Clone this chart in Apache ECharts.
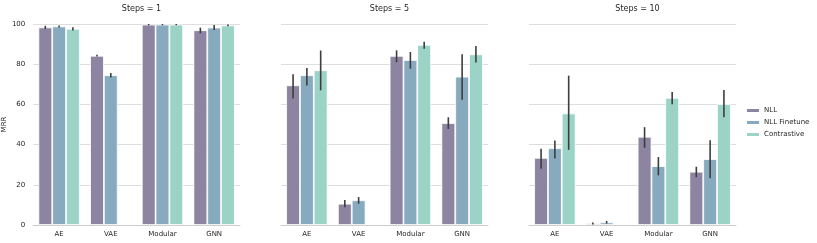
<!DOCTYPE html>
<html><head><meta charset="utf-8">
<script src="https://cdn.jsdelivr.net/npm/echarts@6/dist/echarts.min.js"></script>
<style>html,body{margin:0;padding:0;background:#fff}#c{width:817px;height:243px}</style>
</head><body><div id="c"></div>
<script>
const categories = ['AE', 'VAE', 'Modular', 'GNN'];
const panelTitles = ['Steps = 1', 'Steps = 5', 'Steps = 10'];
const seriesNames = ['NLL', 'NLL Finetune', 'Contrastive'];
const yTicks = [0, 20, 40, 60, 80, 100];

// values per panel: [NLL, NLL Finetune, Contrastive], each per category
const steps1_NLL = [98.3, 84.2, 99.7, 96.9];
const steps1_FT = [98.8, 74.5, 99.7, 98.2];
const steps1_C = [97.6, null, 99.7, 99.3];
const steps1_NLL_err = [[97.5, 99.1], [83.8, 84.7], [99.4, 100], [95.4, 98.2]];
const steps1_FT_err = [[98.3, 99.3], [73.4, 75.6], [99.4, 100], [97.0, 99.5]];
const steps1_C_err = [[96.8, 98.4], null, [99.4, 100], [98.9, 99.7]];

const steps5_NLL = [69.5, 10.6, 84.1, 50.7];
const steps5_FT = [74.5, 12.3, 82.1, 73.8];
const steps5_C = [77.0, null, 89.6, 84.9];
const steps5_NLL_err = [[62.9, 75.0], [8.8, 12.4], [81.0, 86.9], [47.8, 53.6]];
const steps5_FT_err = [[69.4, 78.1], [10.6, 13.9], [77.8, 86.1], [62.3, 84.9]];
const steps5_C_err = [[67.0, 86.8], null, [87.7, 91.2], [80.8, 89.1]];

const steps10_NLL = [33.4, 0.8, 43.9, 26.5];
const steps10_FT = [38.2, 1.3, 29.3, 32.8];
const steps10_C = [55.5, null, 63.2, 60.1];
const steps10_NLL_err = [[28.0, 37.9], [0.3, 1.2], [38.4, 48.7], [23.8, 29.0]];
const steps10_FT_err = [[33.1, 42.0], [0.7, 2.0], [24.7, 33.8], [23.2, 42.2]];
const steps10_C_err = [[37.4, 74.3], null, [60.1, 66.2], [53.6, 67.2]];

const panels = [
  {vals: [steps1_NLL, steps1_FT, steps1_C], errs: [steps1_NLL_err, steps1_FT_err, steps1_C_err]},
  {vals: [steps5_NLL, steps5_FT, steps5_C], errs: [steps5_NLL_err, steps5_FT_err, steps5_C_err]},
  {vals: [steps10_NLL, steps10_FT, steps10_C], errs: [steps10_NLL_err, steps10_FT_err, steps10_C_err]}
];

const colors = ['#8c84a0', '#88aabf', '#9bd3c7'];
const gridLefts = [33, 281, 529];
const gridWidth = 207;
const font = 'DejaVu Sans';

const chart = echarts.init(document.getElementById('c'), null, {renderer: 'canvas'});
const grids = [], xAxes = [], yAxes = [], series = [], titles = [];

panels.forEach((p, pi) => {
  grids.push({left: gridLefts[pi], width: gridWidth, top: 24, height: 201});
  titles.push({text: panelTitles[pi], left: gridLefts[pi] + gridWidth / 2, textAlign: 'center', top: 0,
    textStyle: {fontFamily: font, fontSize: 8, fontWeight: 'normal', color: '#262626'}});
  xAxes.push({type: 'category', gridIndex: pi, data: categories,
    axisLine: {show: true, lineStyle: {color: '#cccccc', width: 1}},
    axisTick: {show: false},
    axisLabel: {fontFamily: font, fontSize: 7, color: '#262626', margin: 6}});
  yAxes.push({type: 'value', gridIndex: pi, min: 0, max: 100, interval: 20,
    name: pi === 0 ? 'MRR' : '', nameLocation: 'middle', nameGap: 20,
    nameTextStyle: {fontFamily: font, fontSize: 7, color: '#262626'},
    axisLine: {show: false}, axisTick: {show: false},
    axisLabel: {show: pi === 0, fontFamily: font, fontSize: 7, color: '#262626', margin: 8},
    splitLine: {show: true, lineStyle: {color: '#dedede', width: 1}}});
  p.vals.forEach((vals, si) => {
    series.push({type: 'bar', name: seriesNames[si], xAxisIndex: pi, yAxisIndex: pi,
      data: vals, barGap: '0%', barCategoryGap: '20%',
      itemStyle: {color: colors[si], borderColor: '#ffffff', borderWidth: 0.8},
      emphasis: {disabled: true}, z: 2});
  });
  // error bars
  p.errs.forEach((errs, si) => {
    series.push({type: 'custom', xAxisIndex: pi, yAxisIndex: pi, z: 5,
      data: errs.map((e, ci) => e ? [ci, e[0], e[1]] : [ci, null, null]),
      renderItem: function (params, api) {
        const lo = api.value(1), hi = api.value(2);
        if (lo === null || lo === undefined || isNaN(lo)) return null;
        const cw = api.size([1, 0])[0];
        const bw = cw * 0.8 / 3;
        const cx = api.coord([api.value(0), 0])[0] + (si - 1) * bw;
        const y1 = api.coord([api.value(0), lo])[1];
        const y2 = api.coord([api.value(0), hi])[1];
        return {type: 'line', shape: {x1: cx, y1: y1, x2: cx, y2: y2},
          style: {stroke: '#3d3d3d', lineWidth: 1.6}};
      }});
  });
});

chart.setOption({
  animation: false,
  color: colors,
  title: titles,
  grid: grids,
  xAxis: xAxes,
  yAxis: yAxes,
  legend: {data: seriesNames, orient: 'vertical', left: 745, top: 107, padding: 0,
    itemWidth: 14, itemHeight: 5, itemGap: 5,
    textStyle: {fontFamily: font, fontSize: 7, color: '#262626', padding: [0, 0, 0, -1]},
    icon: 'rect'},
  series: series
});
</script></body></html>
